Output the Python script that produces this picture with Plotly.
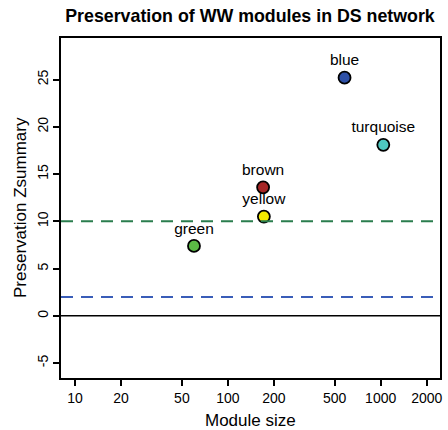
import plotly.graph_objects as go

# Module preservation statistics
modules = ["green", "yellow", "brown", "turquoise", "blue"]
module_size = [60, 172, 170, 1040, 580]
zsummary = [7.4, 10.5, 13.6, 18.1, 25.2]
fill_colors = ["#5BBA45", "#F5EC00", "#A52626", "#4EC8C0", "#2E50A6"]

# Reference thresholds
threshold_low = 2
threshold_high = 10

x_ticks = [10, 20, 50, 100, 200, 500, 1000, 2000]
y_ticks = [-5, 0, 5, 10, 15, 20, 25]

FONT = "Liberation Sans, Arial, sans-serif"
W, H = 448, 430
ML, MR, MT, MB = 61, 8, 38, 52
PW, PH = W - ML - MR, H - MT - MB

fig = go.Figure()

fig.add_trace(go.Scatter(
    x=module_size,
    y=zsummary,
    mode="markers+text",
    text=modules,
    textposition="top center",
    textfont=dict(family=FONT, size=15.5, color="black"),
    marker=dict(size=12, color=fill_colors, line=dict(color="black", width=1.8)),
    showlegend=False,
    cliponaxis=False,
))

fig.add_hline(y=0, line=dict(color="black", width=1.6))
fig.add_hline(y=threshold_high, line=dict(color="#2A7D4E", width=2, dash="12px,8px"))
fig.add_hline(y=threshold_low, line=dict(color="#3A5DB8", width=2, dash="12px,8px"))

# Axis titles placed in the margins
fig.add_annotation(
    text="Module size", xref="paper", yref="paper",
    x=0.5, y=-(420 - (H - MB)) / PH, xanchor="center", yanchor="middle",
    showarrow=False, font=dict(family=FONT, size=17, color="black"),
)
fig.add_annotation(
    text="Preservation Zsummary", xref="paper", yref="paper",
    x=(20 - ML) / PW, y=0.5, xanchor="center", yanchor="middle", textangle=-90,
    showarrow=False, font=dict(family=FONT, size=17, color="black"),
)

fig.update_layout(
    width=W,
    height=H,
    margin=dict(l=ML, r=MR, t=MT, b=MB),
    paper_bgcolor="white",
    plot_bgcolor="white",
    font=dict(family=FONT, color="black"),
    title=dict(
        text="<b>Preservation of WW modules in DS network</b>",
        font=dict(family=FONT, size=17.8, color="black"),
        x=250 / W, xanchor="center",
        y=1 - 16 / H, yanchor="middle",
        xref="container", yref="container",
    ),
)

fig.update_xaxes(
    type="log",
    range=[0.908, 3.388],
    tickvals=x_ticks,
    ticktext=[str(v) for v in x_ticks],
    ticks="outside", ticklen=6, tickwidth=1.5, tickcolor="black",
    tickfont=dict(family=FONT, size=14),
    showline=True, linecolor="black", linewidth=1.8, mirror=True,
    showgrid=False, zeroline=False, automargin=False,
)

fig.update_yaxes(
    range=[-6.58, 29.4],
    tickvals=y_ticks,
    ticktext=[str(v) for v in y_ticks],
    tickangle=-90,
    ticks="outside", ticklen=6, tickwidth=1.5, tickcolor="black",
    tickfont=dict(family=FONT, size=14),
    showline=True, linecolor="black", linewidth=1.8, mirror=True,
    showgrid=False, zeroline=False, automargin=False,
)

fig.write_html("out.html")
